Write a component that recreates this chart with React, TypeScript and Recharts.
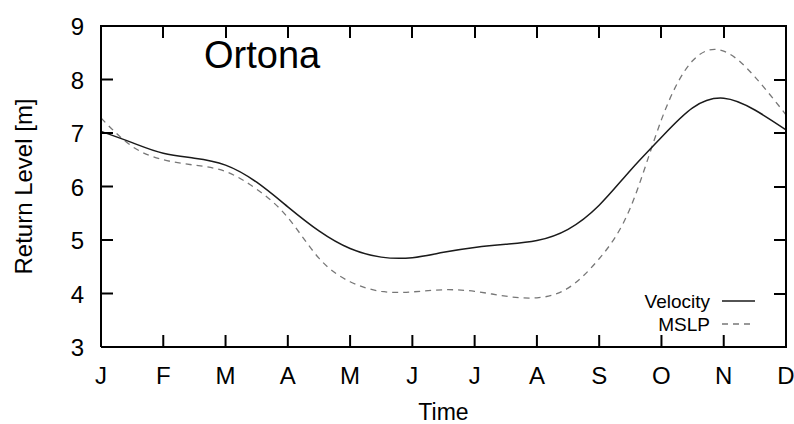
import { Label, Legend, Line, LineChart, XAxis, YAxis } from "recharts"

const monthLabels = ["J", "F", "M", "A", "M", "J", "J", "A", "S", "O", "N", "D"]
const monthTicks = [0, 1, 2, 3, 4, 5, 6, 7, 8, 9, 10, 11]
const levelTicks = [3, 4, 5, 6, 7, 8, 9]

// sampled every half month, J .. D
const timeSteps = [
  0, 0.5, 1, 1.5, 2, 2.5, 3, 3.5, 4, 4.5, 5, 5.5, 6, 6.5, 7, 7.5, 8, 8.5, 9,
  9.5, 10, 10.5, 11,
]
const velocity = [
  7.03, 6.82, 6.62, 6.53, 6.4, 6.08, 5.62, 5.17, 4.84, 4.68, 4.67, 4.77, 4.86,
  4.92, 4.99, 5.2, 5.65, 6.3, 6.92, 7.47, 7.65, 7.43, 7.06,
]
const mslp = [
  7.28, 6.75, 6.5, 6.4, 6.28, 5.95, 5.42, 4.66, 4.22, 4.04, 4.03, 4.07, 4.04,
  3.95, 3.92, 4.1, 4.65, 5.6, 7.25, 8.35, 8.53, 8.05, 7.34,
]

const data = timeSteps.map((m, i) => ({ m, velocity: velocity[i], mslp: mslp[i] }))

const FONT = "'Liberation Sans', Arial, Helvetica, sans-serif"
const W = 794
const H = 424
const MARGIN = { top: 26, right: 8, bottom: 0, left: 0 }
const Y_AXIS_W = 101
const X_AXIS_H = 77
const PLOT_X = MARGIN.left + Y_AXIS_W
const PLOT_Y = MARGIN.top
const PLOT_W = W - MARGIN.left - MARGIN.right - Y_AXIS_W
const PLOT_H = H - MARGIN.top - MARGIN.bottom - X_AXIS_H
const X_DOMAIN = [0, 11]
const Y_DOMAIN = [3, 9]
const TICK = 12

type TickProps = { x?: number; y?: number; payload?: { value: number } }

function BottomTick({ x = 0, y = 0, payload }: TickProps) {
  const v = payload?.value ?? 0
  return (
    <g>
      <line x1={x} x2={x} y1={y} y2={y - TICK} stroke="#000" strokeWidth={2} />
      <text x={x} y={y + 37} textAnchor="middle" fontSize={24} fill="#000">
        {monthLabels[Math.round(v)]}
      </text>
    </g>
  )
}

function LeftTick({ x = 0, y = 0, payload }: TickProps) {
  return (
    <g>
      <line x1={x} x2={x + TICK} y1={y} y2={y} stroke="#000" strokeWidth={2} />
      <text x={x - 17} y={y + 9} textAnchor="end" fontSize={24} fill="#000">
        {payload?.value}
      </text>
    </g>
  )
}

// closed gnuplot-style box: top/right edges + mirrored ticks as plain HTML boxes
function Frame() {
  const sx = (m: number) => PLOT_X + ((m - X_DOMAIN[0]) / (X_DOMAIN[1] - X_DOMAIN[0])) * PLOT_W
  const sy = (v: number) => PLOT_Y + PLOT_H - ((v - Y_DOMAIN[0]) / (Y_DOMAIN[1] - Y_DOMAIN[0])) * PLOT_H
  const right = PLOT_X + PLOT_W
  const bar = (left: number, top: number, width: number, height: number, key: string) => (
    <div
      key={key}
      style={{ position: "absolute", left, top, width, height, background: "#000" }}
    />
  )
  return (
    <div style={{ position: "absolute", left: 0, top: 0, width: W, height: H, pointerEvents: "none" }}>
      {bar(PLOT_X - 1, PLOT_Y - 1, PLOT_W + 2, 2, "top")}
      {bar(right - 1, PLOT_Y - 1, 2, PLOT_H + 2, "right")}
      {monthTicks.map((m) => bar(sx(m) - 1, PLOT_Y, 2, TICK, `t${m}`))}
      {levelTicks.map((v) => bar(right - TICK, sy(v) - 1, TICK, 2, `r${v}`))}
    </div>
  )
}

function KeyBox() {
  const rows = [
    { name: "Velocity", stroke: "#1a1a1a", dash: undefined },
    { name: "MSLP", stroke: "#777", dash: "6 5" },
  ]
  return (
    <svg width={170} height={50} style={{ display: "block" }}>
      {rows.map((r, i) => (
        <g key={r.name}>
          <text
            x={80}
            y={18 + i * 23}
            textAnchor="end"
            fontSize={19}
            fill="#000"
            fontFamily={FONT}
          >
            {r.name}
          </text>
          <line
            x1={92}
            x2={125}
            y1={11 + i * 23}
            y2={11 + i * 23}
            stroke={r.stroke}
            strokeWidth={1.3}
            strokeDasharray={r.dash}
          />
        </g>
      ))}
    </svg>
  )
}

const axisLine = { stroke: "#000", strokeWidth: 2 }

export default function App() {
  return (
    <div style={{ position: "relative", width: W, height: H, fontFamily: FONT, background: "#fff" }}>
      <style>{"body{margin:0}"}</style>
      <LineChart width={W} height={H} data={data} margin={MARGIN}>
        <XAxis
          xAxisId="b"
          dataKey="m"
          type="number"
          domain={X_DOMAIN}
          ticks={monthTicks}
          interval={0}
          tickSize={0}
          tickMargin={0}
          tick={<BottomTick />}
          tickLine={false}
          axisLine={axisLine}
          height={X_AXIS_H}
        >
          <Label value="Time" position="insideBottom" offset={4} fontSize={23} fill="#000" />
        </XAxis>
        <YAxis
          yAxisId="l"
          type="number"
          domain={Y_DOMAIN}
          ticks={levelTicks}
          interval={0}
          tickSize={0}
          tickMargin={0}
          tick={<LeftTick />}
          tickLine={false}
          axisLine={axisLine}
          width={Y_AXIS_W}
        >
          <Label
            value="Return Level [m]"
            angle={-90}
            position="insideLeft"
            offset={23}
            fontSize={24}
            fill="#000"
            style={{ textAnchor: "middle" }}
          />
        </YAxis>
        <Legend
          content={<KeyBox />}
          layout="horizontal"
          verticalAlign="middle"
          align="center"
          wrapperStyle={{ position: "absolute", left: 630, top: 290, width: 170, height: 50 }}
        />
        <Line
          xAxisId="b"
          yAxisId="l"
          type="natural"
          dataKey="mslp"
          name="MSLP"
          stroke="#777"
          strokeWidth={1.3}
          strokeDasharray="6 5"
          dot={false}
          isAnimationActive={false}
        />
        <Line
          xAxisId="b"
          yAxisId="l"
          type="natural"
          dataKey="velocity"
          name="Velocity"
          stroke="#1a1a1a"
          strokeWidth={1.5}
          dot={false}
          isAnimationActive={false}
        />
      </LineChart>
      <Frame />
      <div
        style={{
          position: "absolute",
          left: 204,
          top: 33,
          fontSize: 38,
          lineHeight: "44px",
          color: "#000",
        }}
      >
        Ortona
      </div>
    </div>
  )
}
